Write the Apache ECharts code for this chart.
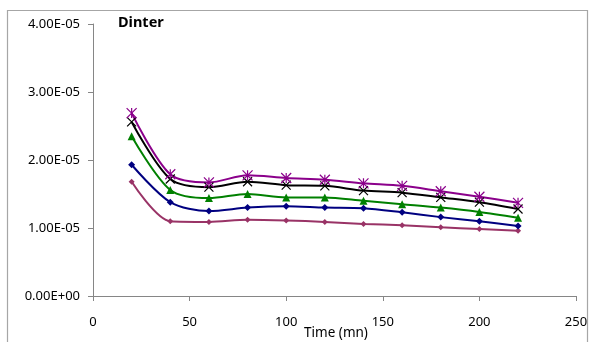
<!DOCTYPE html>
<html><head><meta charset="utf-8">
<script src="https://cdn.jsdelivr.net/npm/echarts@6/dist/echarts.min.js"></script>
<style>html,body{margin:0;padding:0;background:#fff}#c{width:589px;height:342px}</style>
</head><body><div id="c"></div>
<script>
const times = [20, 40, 60, 80, 100, 120, 140, 160, 180, 200, 220];
const seriesNames = ['S1', 'S2', 'S3', 'S4', 'S5'];
const purpleVals = [2.69e-5, 1.79e-5, 1.67e-5, 1.775e-5, 1.735e-5, 1.71e-5, 1.657e-5, 1.62e-5, 1.54e-5, 1.46e-5, 1.37e-5];
const blackVals  = [2.56e-5, 1.72e-5, 1.60e-5, 1.68e-5, 1.63e-5, 1.62e-5, 1.55e-5, 1.52e-5, 1.45e-5, 1.38e-5, 1.28e-5];
const greenVals  = [2.35e-5, 1.56e-5, 1.44e-5, 1.50e-5, 1.45e-5, 1.45e-5, 1.40e-5, 1.35e-5, 1.30e-5, 1.235e-5, 1.15e-5];
const blueVals   = [1.93e-5, 1.38e-5, 1.25e-5, 1.30e-5, 1.32e-5, 1.30e-5, 1.29e-5, 1.23e-5, 1.16e-5, 1.10e-5, 1.03e-5];
const mauveVals  = [1.68e-5, 1.10e-5, 1.09e-5, 1.12e-5, 1.11e-5, 1.09e-5, 1.06e-5, 1.04e-5, 1.01e-5, 0.985e-5, 0.96e-5];
const yTickLabels = ['0.00E+00', '1.00E-05', '2.00E-05', '3.00E-05', '4.00E-05'];
const xTickLabels = ['0', '50', '100', '150', '200', '250'];

const font = 'Noto Sans';
function pairs(v){ return times.map((t,i)=>[t, v[i]]); }
function mk(name, vals, color, symbol, size, hollow){
  return {
    name, type:'line', data: pairs(vals), smooth: 0.3,
    symbol, symbolSize: size,
    lineStyle:{color, width:2},
    itemStyle: hollow ? {color:'rgba(0,0,0,0)', borderColor: color, borderWidth: 1.2} : {color, borderColor: color, borderWidth: 0},
    z: 2
  };
}
const chart = echarts.init(document.getElementById('c'), null, {renderer:'canvas'});
chart.setOption({
  animation:false,
  backgroundColor:'#fff',
  textStyle:{fontFamily:font},
  graphic:[
    {type:'rect', shape:{x:7.5, y:10.5, width:580, height:340}, style:{fill:'none', stroke:'#a6a6a6', lineWidth:1.2}, z:-1},
    {type:'text', left:118, top:15, style:{text:'Dinter', font:'bold 14.5px "Noto Sans"', fill:'#000'}}
  ],
  grid:{left:93, right:13, top:24, bottom:46, outerBoundsMode:'none', containLabel:false},
  xAxis:{
    type:'value', min:0, max:250, interval:50,
    name:'Time (mn)', nameLocation:'middle', nameGap:30, nameMoveOverlap:false,
    nameTextStyle:{fontSize:13.5, color:'#000', fontFamily:font, padding:[0,0,0,3]},
    axisLine:{lineStyle:{color:'#868686'}},
    axisTick:{show:true, length:5, lineStyle:{color:'#868686'}},
    axisLabel:{fontSize:13, color:'#000', margin:20, formatter:(v)=>xTickLabels[Math.round(v/50)]},
    splitLine:{show:false}
  },
  yAxis:{
    type:'value', min:0, max:4e-5, interval:1e-5,
    axisLine:{show:true, lineStyle:{color:'#868686'}},
    axisTick:{show:true, length:5, lineStyle:{color:'#868686'}},
    axisLabel:{fontSize:13, color:'#000', margin:13, formatter:(v)=>yTickLabels[Math.round(v/1e-5)]},
    splitLine:{show:false}
  },
  series:[
    mk(seriesNames[0], mauveVals, '#993366', 'diamond', 6, false),
    mk(seriesNames[1], blueVals, '#000080', 'diamond', 7, false),
    mk(seriesNames[2], greenVals, '#008000', 'triangle', 8, false),
    mk(seriesNames[3], blackVals, '#000000', 'path://M0,0L10,10M10,0L0,10', 9, true),
    mk(seriesNames[4], purpleVals, '#8b008b', 'path://M0,0L10,10M10,0L0,10M5,0L5,10', 10, true)
  ]
});
</script></body></html>
